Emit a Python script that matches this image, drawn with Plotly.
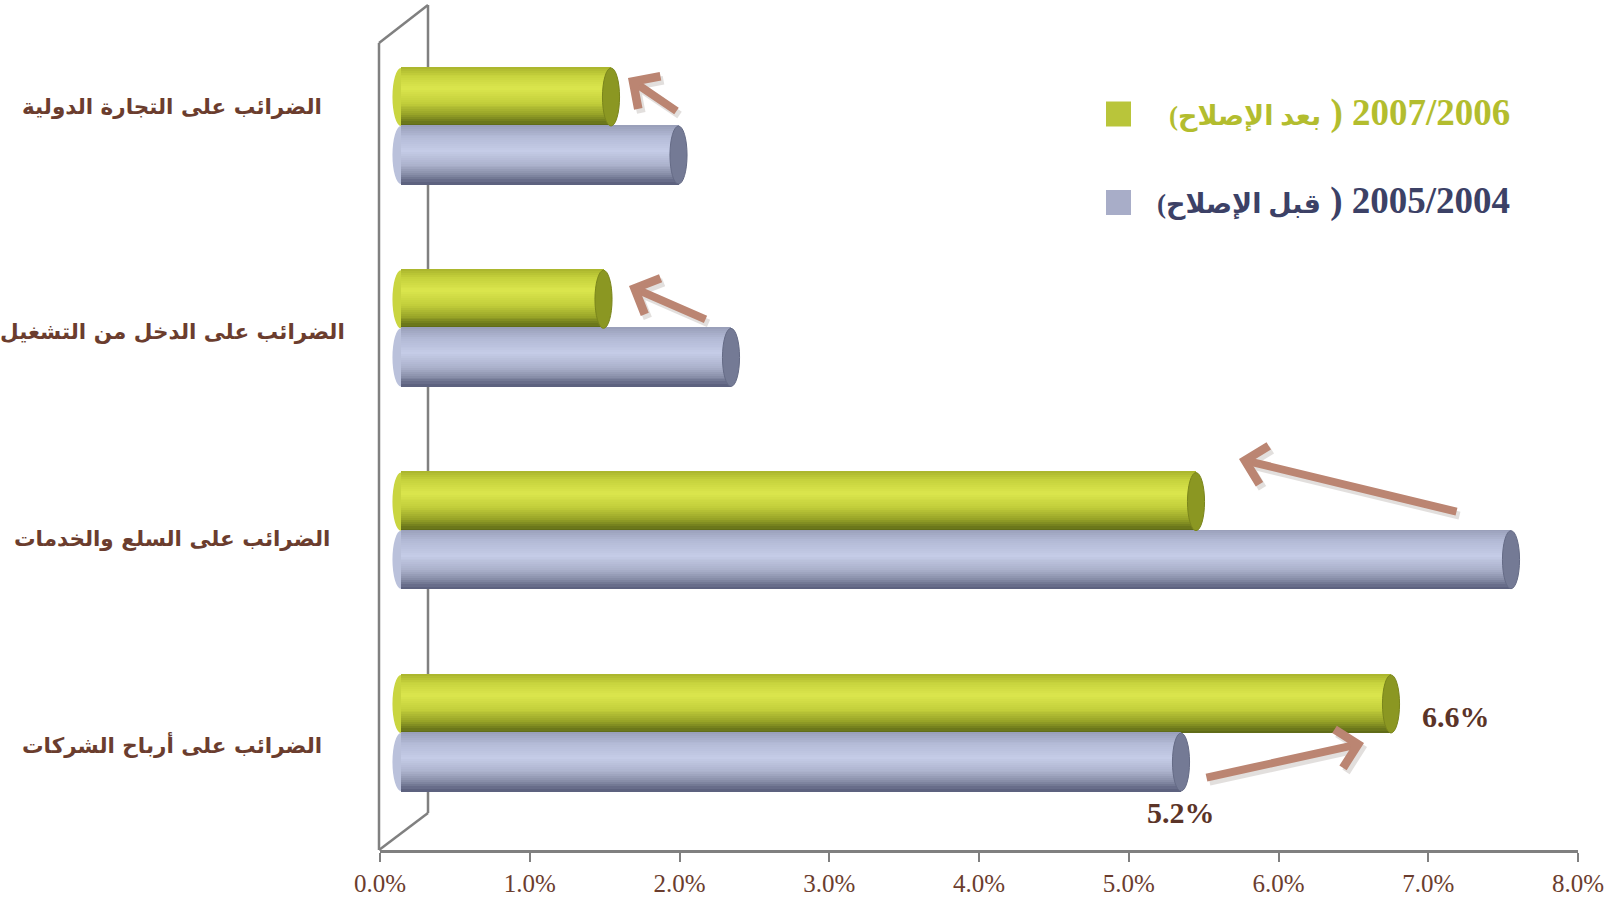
import plotly.graph_objects as go

# ---------------- data ----------------
categories = [
    "الضرائب على التجارة الدولية",
    "الضرائب على الدخل من التشغيل",
    "الضرائب على السلع والخدمات",
    "الضرائب على أرباح الشركات",
]
after_reform = [1.4, 1.35, 5.3, 6.6]     # 2007/2006 (بعد الإصلاح)
before_reform = [1.85, 2.2, 7.4, 5.2]    # 2005/2004 (قبل الإصلاح)
series_after_years = "2007/2006"
series_after_text = "بعد الإصلاح"
series_before_years = "2005/2004"
series_before_text = "قبل الإصلاح"
tick_values = [0, 1, 2, 3, 4, 5, 6, 7, 8]
tick_labels = ["0.0%", "1.0%", "2.0%", "3.0%", "4.0%", "5.0%", "6.0%", "7.0%", "8.0%"]

# ---------------- layout geometry ----------------
W, H = 1612, 899
ML, MR, MT, MB = 380, 34, 0, 49
PW, PH = W - ML - MR, H - MT - MB


def px(x):
    return (x - ML) / PW


def py(y):
    return (H - MB - y) / PH


ypos = list(range(len(categories)))[::-1]
BAR_H = 0.287
N_STRIPES = 30
CAP = 0.057

GREEN_STOPS = [(0.0, "#a9b42c"), (0.15, "#c6d23d"), (0.37, "#dbe64d"),
               (0.62, "#c2ce3b"), (0.82, "#97a328"), (1.0, "#5a6616")]
BLUE_STOPS = [(0.0, "#989eb8"), (0.2, "#b3bad6"), (0.45, "#c5cce7"),
              (0.7, "#aab0ca"), (0.86, "#868ca6"), (1.0, "#575c7a")]


def hex2rgb(h):
    h = h.lstrip("#")
    return [int(h[i:i + 2], 16) for i in (0, 2, 4)]


def grad(stops, t):
    for (t0, c0), (t1, c1) in zip(stops[:-1], stops[1:]):
        if t0 <= t <= t1:
            f = (t - t0) / (t1 - t0) if t1 > t0 else 0
            a, b = hex2rgb(c0), hex2rgb(c1)
            return "rgb(%d,%d,%d)" % tuple(round(a[k] + (b[k] - a[k]) * f) for k in range(3))
    return stops[-1][1]


fig = go.Figure()

# empty trace so that the main (tick) x axis subplot is drawn
fig.add_trace(go.Scatter(x=[], y=[], xaxis="x", yaxis="y", showlegend=False, hoverinfo="skip"))

series = [
    (after_reform, GREEN_STOPS, BAR_H, "#8b9722", "#7a851c"),
    (before_reform, BLUE_STOPS, 0.0, "#747a95", "#656b86"),
]

shapes = []
for vals, stops, top, capcol, capline in series:
    sh = BAR_H / N_STRIPES
    for i in range(N_STRIPES):
        t = (i + 0.5) / N_STRIPES
        fig.add_trace(go.Bar(
            x=vals, y=ypos, orientation="h", xaxis="x2", yaxis="y",
            offset=top - (i + 1) * sh, width=sh * 1.6 if i < N_STRIPES - 1 else sh,
            marker=dict(color=grad(stops, t), line=dict(width=0)),
            showlegend=False, hoverinfo="skip",
        ))
    for v, y in zip(vals, ypos):
        # rounded start of cylinder (behind the bar body)
        shapes.append(dict(type="circle", xref="x2", yref="y", layer="below",
                           x0=-CAP, x1=CAP, y0=y + top - BAR_H, y1=y + top,
                           fillcolor=grad(stops, 0.55), line=dict(width=0)))
        # end cap
        shapes.append(dict(type="circle", xref="x2", yref="y", layer="above",
                           x0=v - CAP, x1=v + CAP, y0=y + top - BAR_H, y1=y + top,
                           fillcolor=capcol, line=dict(width=1, color=capline)))

# 3D wall lines
LC = "#808080"
shapes += [
    dict(type="line", xref="paper", yref="paper", x0=px(379), x1=px(379), y0=py(850), y1=py(43),
         line=dict(color=LC, width=2.5)),
    dict(type="line", xref="paper", yref="paper", x0=px(379), x1=px(428), y0=py(43), y1=py(5),
         line=dict(color=LC, width=2.5)),
    dict(type="line", xref="paper", yref="paper", x0=px(428), x1=px(428), y0=py(5), y1=py(813),
         line=dict(color=LC, width=2.5), layer="below"),
    dict(type="line", xref="paper", yref="paper", x0=px(379), x1=px(428), y0=py(850), y1=py(813),
         line=dict(color=LC, width=2.5)),
]

# legend squares
shapes += [
    dict(type="rect", xref="paper", yref="paper", x0=px(1106), x1=px(1131), y0=py(126.5), y1=py(101.5),
         fillcolor="#b9c53a", line=dict(width=0)),
    dict(type="rect", xref="paper", yref="paper", x0=px(1106), x1=px(1131), y0=py(215), y1=py(190),
         fillcolor="#a8adc8", line=dict(width=0)),
]

annotations = []

# category labels (centred, left of the chart)
label_shift = [20, -3, -8, -12]
for cat, y, s in zip(categories, ypos, label_shift):
    annotations.append(dict(text="<b>%s</b>" % cat, xref="paper", yref="y", x=px(172), y=y,
                            yshift=s, xanchor="center", yanchor="middle", showarrow=False,
                            font=dict(family="DejaVu Sans", size=21.5, color="#6b3d2e")))


def legend_text(years, arabic):
    return ('<b><span style="font-size:27px">(%s</span>\u200e ) %s</b>' % (arabic, years))


# legend texts
annotations.append(dict(text=legend_text(series_after_years, series_after_text), xref="paper", yref="paper",
                        x=px(1512), y=py(113), xanchor="right", yanchor="middle", showarrow=False,
                        font=dict(family="Liberation Serif, DejaVu Sans", size=37, color="#b3bd2e")))
annotations.append(dict(text=legend_text(series_before_years, series_before_text), xref="paper", yref="paper",
                        x=px(1512), y=py(201), xanchor="right", yanchor="middle", showarrow=False,
                        font=dict(family="Liberation Serif, DejaVu Sans", size=37, color="#3c4166")))

# data labels for corporate profits
ci = 3
annotations.append(dict(text="<b>%.1f%%</b>" % after_reform[ci], xref="x2", yref="y",
                        x=after_reform[ci], y=ypos[ci], xshift=29, yshift=16,
                        xanchor="left", yanchor="middle", showarrow=False,
                        font=dict(family="Liberation Serif", size=30, color="#5b3428")))
annotations.append(dict(text="<b>%.1f%%</b>" % before_reform[ci], xref="x2", yref="y",
                        x=before_reform[ci], y=ypos[ci], yshift=-80,
                        xanchor="center", yanchor="middle", showarrow=False,
                        font=dict(family="Liberation Serif", size=30, color="#5b3428")))

# arrows (head, tail in pixels)
arrows = [((628, 78), (678, 112)), ((629, 286), (707, 320)),
          ((1239, 459), (1458, 512)), ((1364, 743), (1205, 778))]
for (hx, hy), (tx, ty) in arrows:
    annotations.append(dict(text="", xref="paper", yref="paper", x=px(hx), y=py(hy),
                            ax=tx - hx, ay=ty - hy, xshift=3, yshift=-4, showarrow=True,
                            arrowhead=4, arrowsize=0.95, arrowwidth=8,
                            arrowcolor="rgba(80,60,50,0.16)"))
    annotations.append(dict(text="", xref="paper", yref="paper", x=px(hx), y=py(hy),
                            ax=tx - hx, ay=ty - hy, showarrow=True,
                            arrowhead=4, arrowsize=0.95, arrowwidth=8, arrowcolor="#bb8572"))

fig.update_layout(
    width=W, height=H, autosize=False,
    margin=dict(l=ML, r=MR, t=MT, b=MB),
    paper_bgcolor="white", plot_bgcolor="white",
    barmode="overlay", bargap=0,
    showlegend=False,
    xaxis=dict(range=[0, 8], tickvals=tick_values, ticktext=tick_labels,
               showgrid=False, zeroline=False, showline=True, linecolor=LC, linewidth=2.5,
               ticks="outside", ticklen=9, tickwidth=2, tickcolor=LC,
               tickfont=dict(family="Liberation Serif", size=25, color="#6b3d2e"),
               fixedrange=True),
    xaxis2=dict(overlaying="x", range=[-(401 - ML) / 150, -(401 - ML) / 150 + PW / 150],
                visible=False, fixedrange=True),
    yaxis=dict(range=[-(850 - 733) / 202.3, 3 + 126 / 202.3], visible=False, fixedrange=True),
    shapes=shapes,
    annotations=annotations,
)

fig.write_html("out.html")
